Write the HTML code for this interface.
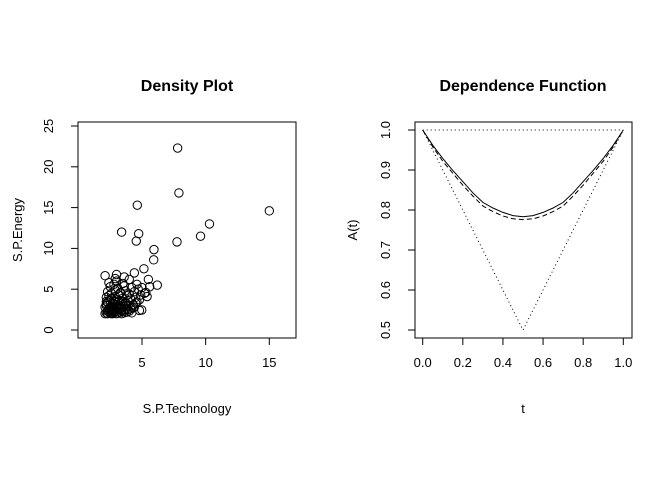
<!DOCTYPE html>
<html><head><meta charset="utf-8"><style>
body{margin:0;background:#fff}
svg{display:block;font-family:"Liberation Sans",Arial,sans-serif}
</style></head><body>
<svg id="c" width="672" height="480" viewBox="0 0 672 480"></svg>
<script>
const sx=[7.8,7.9,4.63,15.0,10.3,9.6,7.75,3.4,4.74,4.55,5.94,5.92,5.15,6.2,5.5,4.98,2.1,
2.2,2.3,2.4,2.5,2.6,2.7,2.8,2.9,3.0,3.1,3.2,3.3,3.4,3.5,3.6,3.8,4.0,4.2,2.1,2.2,2.4,2.6,2.8,3.0,3.2,3.4,3.6,3.8,4.1,4.4,2.3,2.5,2.7,2.9,3.1,3.3,3.5,3.7,3.9,4.3,4.6,2.2,2.4,2.6,2.9,3.2,3.5,3.8,4.1,4.5,4.8,2.3,2.6,2.9,3.3,3.7,4.0,4.4,4.9,5.2,2.5,2.8,3.1,3.6,4.2,4.7,5.3,2.4,3.0,3.5,4.0,4.6,5.0,5.6,2.2,2.7,3.3,3.9,4.3,4.8,2.6,3.2,3.9,4.5,5.4,2.9,3.6,4.4,3.0,3.3,2.1,2.3,2.5,2.7,2.2,2.4,2.6,2.8,3.0,3.1,3.4,3.7];
const sy=[22.3,16.8,15.3,14.6,13.0,11.5,10.8,12.0,11.8,10.9,9.85,8.6,7.5,5.5,6.2,2.45,6.65,
2.1,2.3,2.2,2.5,2.1,2.4,2.2,2.6,2.3,2.1,2.5,2.2,2.4,2.3,2.1,2.2,2.3,2.1,2.8,3.0,2.7,2.9,3.1,2.8,3.0,2.7,2.9,3.2,2.6,2.8,3.4,3.6,3.3,3.5,3.7,3.2,3.5,3.3,3.6,3.1,3.4,4.0,4.2,3.9,4.1,4.3,3.9,4.2,3.8,4.0,3.7,4.7,4.5,4.9,4.6,4.8,4.4,4.7,4.3,4.5,5.3,5.6,5.1,5.4,5.2,5.0,4.6,5.8,6.0,5.7,6.2,5.6,5.2,5.3,3.2,2.9,2.6,2.5,2.7,2.4,3.8,3.5,3.0,3.3,4.1,6.3,6.5,7.0,6.8,4.5,2.0,2.0,2.1,2.0,3.5,2.5,2.0,2.2,2.0,2.9,2.0,2.5];
const xTicks=[5,10,15], yTicks=[0,5,10,15,20,25];
const tVals=[0,0.05,0.1,0.15,0.2,0.25,0.3,0.35,0.4,0.45,0.5,0.55,0.6,0.65,0.7,0.75,0.8,0.85,0.9,0.95,1];
const aSolid=[1,0.962,0.929,0.899,0.871,0.843,0.819,0.805,0.794,0.786,0.783,0.786,0.794,0.805,0.819,0.843,0.871,0.899,0.929,0.962,1];
const aDash=[1,0.958,0.922,0.892,0.862,0.835,0.810,0.796,0.785,0.778,0.776,0.778,0.785,0.796,0.810,0.835,0.862,0.892,0.922,0.958,1];
const tTicks=[0,0.2,0.4,0.6,0.8,1.0], aTicks=[0.5,0.6,0.7,0.8,0.9,1.0];
const tTickLab=["0.0","0.2","0.4","0.6","0.8","1.0"], aTickLab=["0.5","0.6","0.7","0.8","0.9","1.0"];

const svg=document.getElementById('c');const NS='http://www.w3.org/2000/svg';
function mk(t,a,p){const e=document.createElementNS(NS,t);for(const k in a)e.setAttribute(k,a[k]);(p||svg).appendChild(e);return e;}
function txt(s,x,y,a,p){const e=mk('text',Object.assign({x:x,y:y,'text-anchor':'middle','font-size':13,fill:'#000'},a),p);e.textContent=s;return e;}
// left panel
const X1=v=>142+(v-5)*12.73, Y1=v=>330-v*8.16;
const g1=mk('g',{});
const b1=mk('rect',{x:78,y:122,width:218,height:216,fill:'none',stroke:'#000'},g1);

xTicks.forEach(v=>{mk('line',{x1:X1(v),x2:X1(v),y1:338,y2:345,stroke:'#000'},g1);const t=txt(String(v),X1(v),367,{},g1);});
yTicks.forEach(v=>{mk('line',{x1:71,x2:78,y1:Y1(v),y2:Y1(v),stroke:'#000'},g1);const t=txt(String(v),0,0,{transform:`translate(53,${Y1(v)}) rotate(-90)`},g1);});
sx.forEach((v,i)=>{const c=mk('circle',{cx:X1(v),cy:Y1(sy[i]),r:4.2,fill:'none',stroke:'#000','stroke-width':1},g1);
});
let e=txt('Density Plot',187,91,{'font-size':16,'font-weight':'bold'},g1);
e=txt('S.P.Technology',187,413,{},g1);
e=txt('S.P.Energy',0,0,{transform:'translate(22,230) rotate(-90)'},g1);
// right panel
const X2=v=>422.7+v*200.6, Y2=v=>130+(1-v)*400;
const g2=mk('g',{});
const b2=mk('rect',{x:415,y:122,width:217,height:216,fill:'none',stroke:'#000'},g2);

tTicks.forEach((v,i)=>{mk('line',{x1:X2(v),x2:X2(v),y1:338,y2:345,stroke:'#000'},g2);const t=txt(tTickLab[i],X2(v),367,{},g2);});
aTicks.forEach((v,i)=>{mk('line',{x1:408,x2:415,y1:Y2(v),y2:Y2(v),stroke:'#000'},g2);const t=txt(aTickLab[i],0,0,{transform:`translate(390,${Y2(v)}) rotate(-90)`},g2);});
let l=mk('polyline',{points:`${X2(0)},${Y2(1)} ${X2(1)},${Y2(1)}`,fill:'none',stroke:'#000','stroke-dasharray':'1,3'},g2);
l=mk('polyline',{points:`${X2(0)},${Y2(1)} ${X2(0.5)},${Y2(0.5)} ${X2(1)},${Y2(1)}`,fill:'none',stroke:'#000','stroke-dasharray':'1,3'},g2);
l=mk('polyline',{points:tVals.map((t,i)=>X2(t)+','+Y2(aDash[i])).join(' '),fill:'none',stroke:'#000','stroke-dasharray':'5,3'},g2);
l=mk('polyline',{points:tVals.map((t,i)=>X2(t)+','+Y2(aSolid[i])).join(' '),fill:'none',stroke:'#000'},g2);
e=txt('Dependence Function',523,91,{'font-size':16,'font-weight':'bold'},g2);
e=txt('t',523,413,{},g2);
e=txt('A(t)',0,0,{transform:'translate(357,230) rotate(-90)'},g2);
</script>
</body></html>
